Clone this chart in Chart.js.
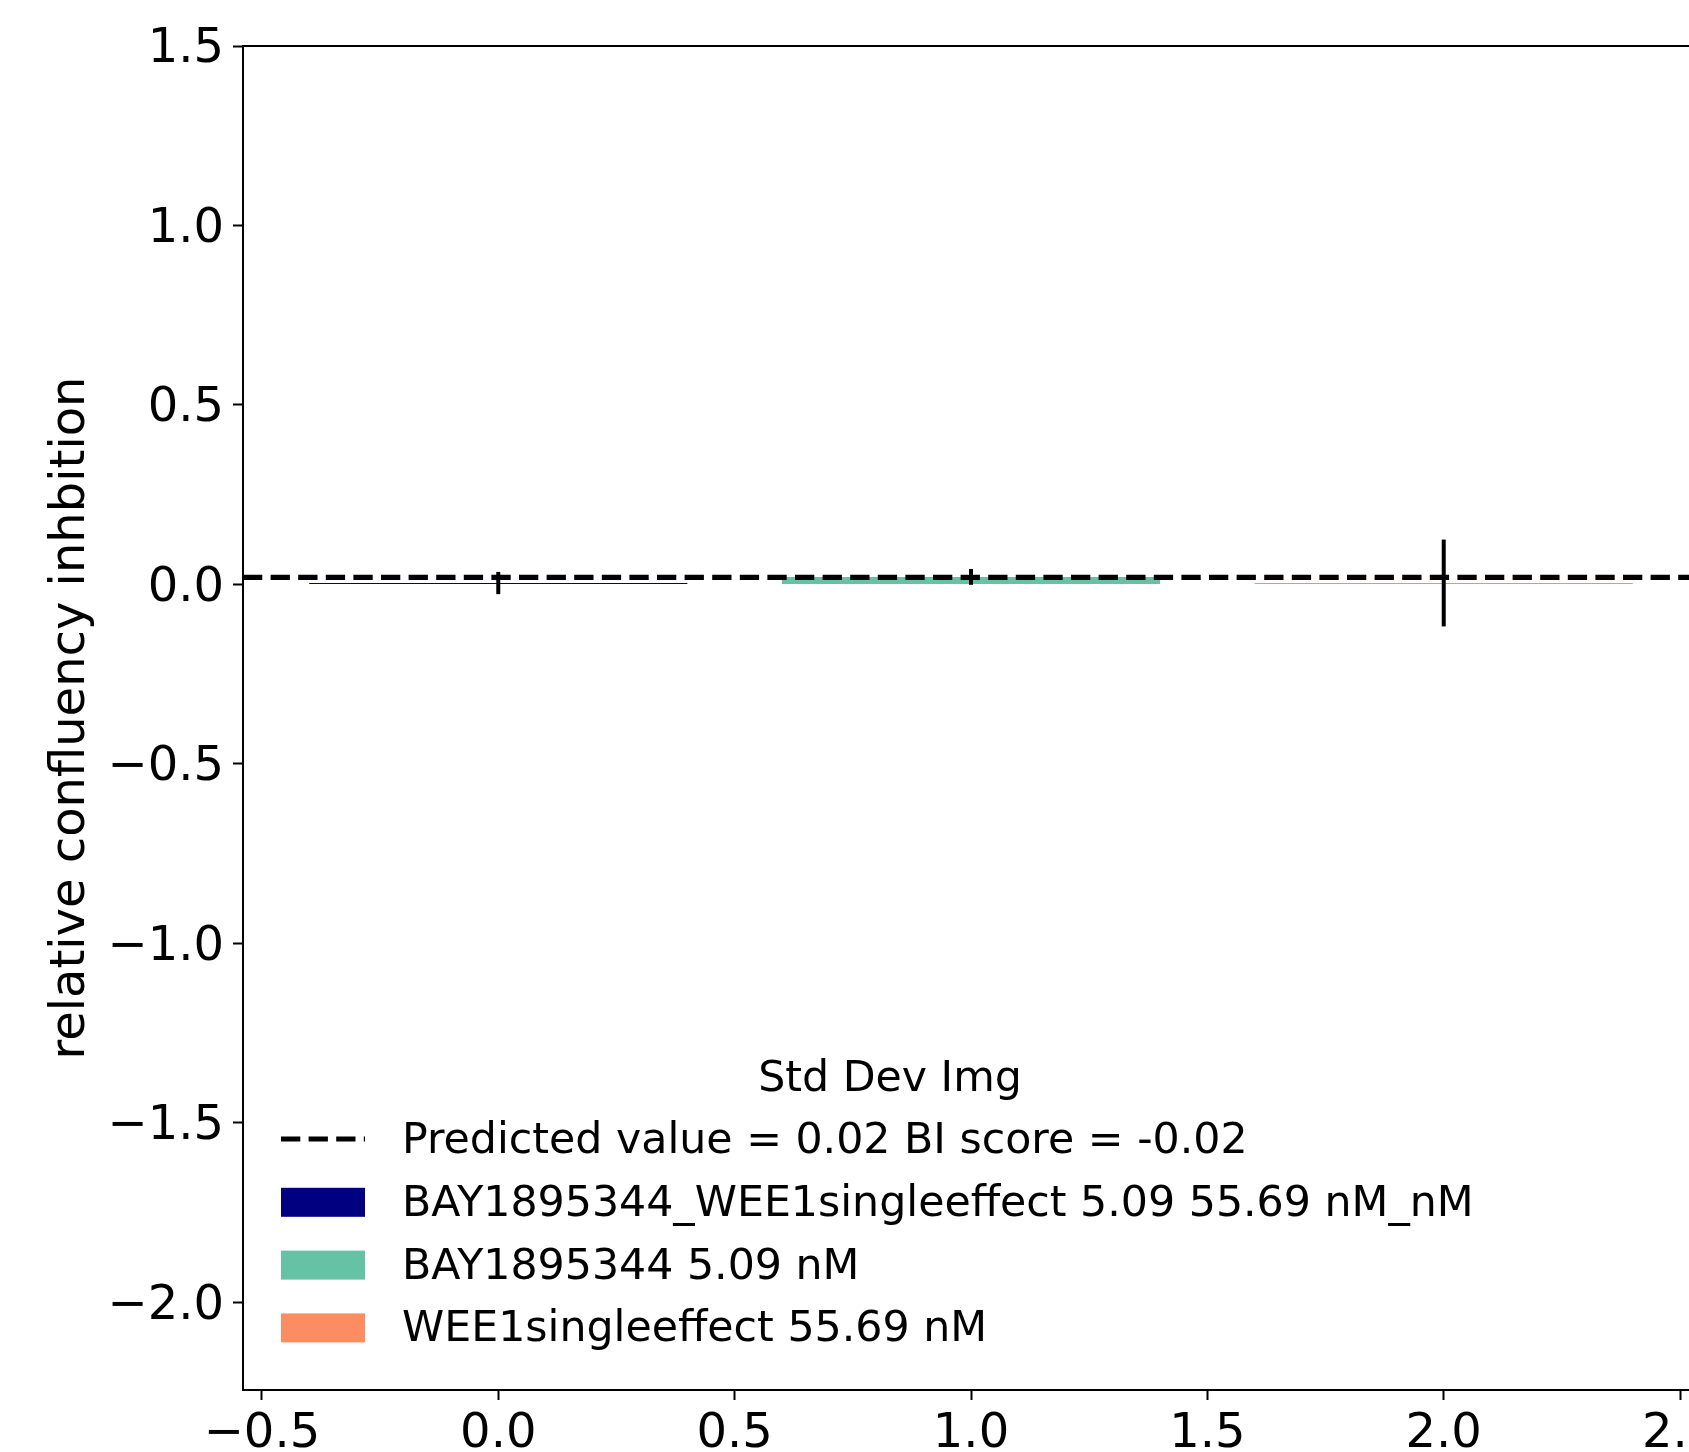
<!DOCTYPE html>
<html>
<head>
<meta charset="utf-8">
<script src="https://cdn.jsdelivr.net/npm/chart.js@4/dist/chart.umd.min.js"></script>
<style>
  html, body { margin: 0; padding: 0; background: #fff; overflow: hidden; }
  #wrap { width: 1689px; height: 1452px; overflow: hidden; }
  canvas { display: block; }
</style>
</head>
<body>
<div id="wrap"><canvas id="chart" width="1700" height="1452"></canvas></div>
<script>
// values
const positions = [0, 1, 2];
const seriesNames = ['BAY1895344_WEE1singleeffect 5.09 55.69 nM_nM', 'BAY1895344 5.09 nM', 'WEE1singleeffect 55.69 nM'];
const means = [0.004, 0.021, 0.004];
const stdDevs = [0.031, 0.022, 0.121];
const colors = ['#000080', '#66c2a5', '#fc8d62'];
const predicted = 0.02;
const biScore = -0.02;
const legendTitle = 'Std Dev Img';
const yLabel = 'relative confluency inhbition';
const xTicks = [-0.5, 0, 0.5, 1, 1.5, 2, 2.5];
const yTicks = [-2, -1.5, -1, -0.5, 0, 0.5, 1, 1.5];
const xRange = [-0.54, 2.54];
const yRange = [-2.244, 1.5];

const FONT = 'DejaVu Sans';
const fmt = v => v.toFixed(1).replace('-', '\u2212');

const extras = {
    id: 'extras',
    afterDatasetsDraw(chart) {
        const { ctx, scales: { x, y }, chartArea: a } = chart;
        ctx.save();
        ctx.strokeStyle = '#000';
        ctx.lineWidth = 4;
        positions.forEach((p, i) => {
            const px = x.getPixelForValue(p);
            ctx.beginPath();
            ctx.moveTo(px, y.getPixelForValue(means[i] - stdDevs[i]));
            ctx.lineTo(px, y.getPixelForValue(means[i] + stdDevs[i]));
            ctx.stroke();
        });
        // top / right spines
        ctx.lineWidth = 2;
        ctx.beginPath();
        ctx.moveTo(a.left, a.top);
        ctx.lineTo(a.right, a.top);
        ctx.lineTo(a.right, a.bottom);
        ctx.stroke();
        ctx.restore();
    },
    afterDraw(chart) {
        const ctx = chart.ctx;
        const hx = 281, hw = 84, tx = 402, base0 = 1153, step = 62.8;
        ctx.save();
        ctx.fillStyle = '#000';
        ctx.font = '42.7px "' + FONT + '"';
        ctx.textBaseline = 'alphabetic';
        ctx.textAlign = 'center';
        ctx.fillText(legendTitle, 890, 1091);
        ctx.textAlign = 'left';

        const rows = ['Predicted value = ' + predicted.toFixed(2) + ' BI score = ' + biScore.toFixed(2)].concat(seriesNames);
        rows.forEach((txt, i) => {
            const b = base0 + i * step;
            if (i === 0) {
                ctx.strokeStyle = '#000';
                ctx.lineWidth = 5.2;
                ctx.setLineDash([19.3, 8.3]);
                ctx.beginPath();
                ctx.moveTo(hx, b - 14);
                ctx.lineTo(hx + hw, b - 14);
                ctx.stroke();
                ctx.setLineDash([]);
            } else {
                ctx.fillStyle = colors[i - 1];
                ctx.fillRect(hx, b - 28, hw, 29);
            }
            ctx.fillStyle = '#000';
            ctx.fillText(txt, tx, b);
        });
        ctx.restore();
    }
};

new Chart(document.getElementById('chart'), {
    data: {
        datasets: [
            {
                type: 'line',
                data: xRange.map(v => ({ x: v, y: predicted })),
                borderColor: '#000',
                borderWidth: 5.2,
                borderDash: [19.3, 8.3],
                pointRadius: 0,
                order: 0
            },
            {
                type: 'bar',
                data: positions.map((p, i) => ({ x: p, y: means[i] })),
                backgroundColor: colors,
                borderWidth: 0,
                // bar ruler uses the 0.5 tick spacing, so 1.6 gives 0.8 data units
                barPercentage: 1.6,
                categoryPercentage: 1,
                order: 1
            }
        ]
    },
    options: {
        responsive: false,
        animation: false,
        events: [],
        layout: { padding: { left: 0, right: 1, top: 46, bottom: 0 } },
        plugins: { legend: { display: false }, tooltip: { enabled: false } },
        scales: {
            x: {
                type: 'linear',
                offset: false,
                min: xRange[0],
                max: xRange[1],
                afterBuildTicks: s => { s.ticks = xTicks.map(v => ({ value: v })); },
                afterFit: s => { s.height = 62; s.paddingLeft = 0; s.paddingRight = 0; },
                grid: { display: true, offset: false, drawOnChartArea: false, drawTicks: true, tickLength: 10, tickColor: '#000', tickWidth: 2 },
                border: { display: true, color: '#000', width: 2 },
                ticks: { color: '#000', font: { family: FONT, size: 48 }, padding: 6, maxRotation: 0, autoSkip: false, callback: v => fmt(v) }
            },
            y: {
                type: 'linear',
                min: yRange[0],
                max: yRange[1],
                afterBuildTicks: s => { s.ticks = yTicks.map(v => ({ value: v })); },
                afterFit: s => { s.width = 243; s.paddingTop = 0; s.paddingBottom = 0; },
                grid: { display: true, drawOnChartArea: false, drawTicks: true, tickLength: 10, tickColor: '#000', tickWidth: 2 },
                border: { display: true, color: '#000', width: 2 },
                ticks: { color: '#000', font: { family: FONT, size: 48 }, padding: 9, labelOffset: 4, autoSkip: false, callback: v => fmt(v) },
                title: { display: true, text: yLabel, color: '#000', font: { family: FONT, size: 48 }, padding: { top: 43, bottom: 0 } }
            }
        }
    },
    plugins: [extras]
});
</script>
</body>
</html>
